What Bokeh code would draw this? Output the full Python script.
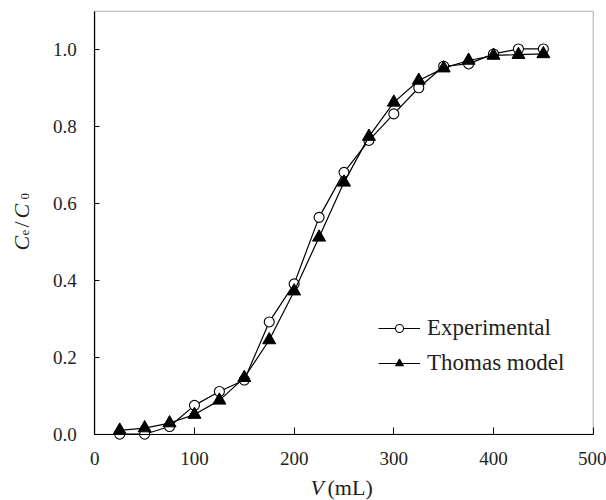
import math
from bokeh.plotting import figure
from bokeh.models import (Label, FixedTicker, Range1d, Legend, LegendItem,
                          NumeralTickFormatter, BoxAnnotation)
from bokeh.embed import file_html
from bokeh.resources import INLINE

# ---- data ----
V_ML = [25, 50, 75, 100, 125, 150, 175, 200, 225, 250, 275, 300, 325, 350, 375, 400, 425, 450]
EXPERIMENTAL = [0.000, 0.000, 0.020, 0.075, 0.111, 0.141, 0.292, 0.391, 0.564, 0.681,
                0.764, 0.833, 0.901, 0.957, 0.963, 0.989, 1.002, 1.002]
THOMAS = [0.010, 0.016, 0.029, 0.051, 0.088, 0.147, 0.245, 0.372, 0.512, 0.655,
          0.774, 0.863, 0.920, 0.952, 0.972, 0.985, 0.987, 0.989]
X_TICKS = [0, 100, 200, 300, 400, 500]
Y_TICKS = [0.0, 0.2, 0.4, 0.6, 0.8, 1.0]
X_LIMITS = (0, 500)
Y_LIMITS = (0, 1.1)
SERIES_NAMES = ["Experimental", "Thomas model"]

FONT = "Liberation Serif"
INK = "#231f20"

W, H = 606, 500
# pixel placement of the axes box inside the canvas
BOX_L, BOX_R, BOX_B = 94.3, 592.7, 433.7
PX_PER_Y = 384.5
px_per_x = (BOX_R - BOX_L) / (X_LIMITS[1] - X_LIMITS[0])
x_range = Range1d(X_LIMITS[0] - BOX_L / px_per_x, X_LIMITS[1] + (W - BOX_R) / px_per_x)
y_range = Range1d(Y_LIMITS[0] - (H - BOX_B) / PX_PER_Y, Y_LIMITS[0] + BOX_B / PX_PER_Y)

p = figure(width=W, height=H, min_border=0, x_range=x_range, y_range=y_range,
           output_backend="svg", toolbar_location=None)
p.title.visible = False
p.background_fill_color = "white"
p.border_fill_color = "white"
p.outline_line_color = None
p.xgrid.visible = False
p.ygrid.visible = False

p.xaxis.fixed_location = 0
p.yaxis.fixed_location = 0
p.xaxis.bounds = X_LIMITS
p.yaxis.bounds = Y_LIMITS
for ax in (p.xaxis[0], p.yaxis[0]):
    ax.axis_line_color = "black"
    ax.axis_line_width = 1.2
    ax.major_tick_line_color = "black"
    ax.major_tick_line_width = 1
    ax.major_tick_out = 0
    ax.minor_tick_line_color = None
    ax.major_label_text_font = FONT
    ax.major_label_text_font_size = "19px"
    ax.major_label_text_color = INK
p.xaxis.major_tick_in = 7
p.yaxis.major_tick_in = 5
p.xaxis.major_label_standoff = 18
p.yaxis.major_label_standoff = 18
p.xaxis.ticker = FixedTicker(ticks=X_TICKS)
p.yaxis.ticker = FixedTicker(ticks=Y_TICKS)
p.yaxis.formatter = NumeralTickFormatter(format="0.0")

# box around the plotting area
p.add_layout(BoxAnnotation(left=X_LIMITS[0], right=X_LIMITS[1], bottom=Y_LIMITS[0],
                           top=Y_LIMITS[1], fill_alpha=0, line_color="black",
                           line_width=1.1, level="underlay"))

# Experimental
l1 = p.line(V_ML, EXPERIMENTAL, line_color="black", line_width=1.2)
s1 = p.scatter(V_ML, EXPERIMENTAL, marker="circle", size=10, line_color="black",
               line_width=1.1, fill_color="white")
# Thomas model
l2 = p.line(V_ML, THOMAS, line_color="black", line_width=1.2)
s2 = p.scatter(V_ML, THOMAS, marker="triangle", size=13, line_color="black",
               line_width=1, fill_color="black")

legend = Legend(items=[LegendItem(label=SERIES_NAMES[0], renderers=[l1, s1]),
                       LegendItem(label=SERIES_NAMES[1], renderers=[l2, s2])],
                location=(378, 124), padding=0, margin=0, spacing=9,
                glyph_width=42, glyph_height=20, label_height=20, label_standoff=7,
                border_line_color=None, background_fill_alpha=0,
                label_text_font=FONT, label_text_font_size="23px", label_text_color=INK)
p.add_layout(legend)

# x axis label: italic V + (mL)   (screen units: x from left, y from bottom)
p.add_layout(Label(x=310, y=13, x_units="screen", y_units="screen", text="V",
                   text_font=FONT, text_font_style="italic", text_font_size="22px",
                   text_color=INK, text_baseline="alphabetic", text_align="left"))
p.add_layout(Label(x=327, y=13, x_units="screen", y_units="screen", text="(mL)",
                   text_font=FONT, text_font_size="22px", text_color=INK,
                   text_baseline="alphabetic", text_align="left"))

# y axis label: C_e / C_0 (rotated)
pieces = [("C", "italic", "22px", 21, 250),
          ("e", "normal", "13px", 24.5, 265),
          ("/", "normal", "22px", 21, 273),
          ("C", "italic", "22px", 21, 282),
          ("0", "normal", "13px", 24.5, 301)]
for txt, style, size, xs, ys in pieces:
    p.add_layout(Label(x=xs, y=ys, x_units="screen", y_units="screen", text=txt,
                       angle=math.pi / 2, text_font=FONT, text_font_style=style,
                       text_font_size=size, text_color=INK,
                       text_baseline="alphabetic", text_align="left"))

open("out.html", "w").write(file_html(p, INLINE))
